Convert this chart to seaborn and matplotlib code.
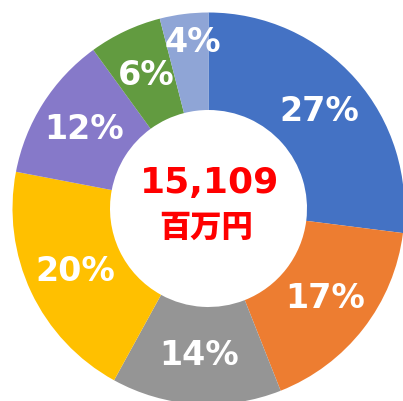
import matplotlib
matplotlib.use("Agg")
import matplotlib.pyplot as plt
import seaborn as sns
import numpy as np

sns.set_theme(style="white")
plt.rcParams['font.family'] = ['DejaVu Sans', 'Noto Sans CJK JP']

shares = [27, 17, 14, 20, 12, 6, 4]
labels = ["27%", "17%", "14%", "20%", "12%", "6%", "4%"]
colors = ["#4472C4", "#ED7D31", "#959595", "#FFC000", "#8679C9", "#629B40", "#8FA5D6"]
total_text = "15,109"
unit_text = "百万円"

palette = sns.color_palette(colors)

fig = plt.figure(figsize=(4.03, 4.01), dpi=100)
ax = fig.add_axes([0, 0, 1, 1])
cx, cy = 208.5, 401 - 208.5
R = 196
wedges, texts = ax.pie(shares, colors=palette, startangle=90, counterclock=False,
                       center=(cx, cy), radius=R,
                       wedgeprops=dict(width=R - 98.5, linewidth=0))
ax.set_xlim(0, 403)
ax.set_ylim(0, 401)
ax.set_aspect('equal')
ax.axis('off')

for i, (w, lab) in enumerate(zip(wedges, labels)):
    if i == len(labels) - 1:
        ang = np.deg2rad(w.theta1 + 0.38 * (w.theta2 - w.theta1))
        r = 0.85 * R
    else:
        ang = np.deg2rad((w.theta1 + w.theta2) / 2)
        r = 0.75 * R
    ax.text(cx + r * np.cos(ang), cy + r * np.sin(ang), lab, color="white",
            fontsize=24, fontweight="bold", ha="center", va="center")

ax.text(cx + 1, cy + 25, total_text, color="#FF0000", fontsize=26, fontweight="bold",
        ha="center", va="center")
ax.text(cx - 2, cy - 19, unit_text, color="#FF0000", fontsize=22.5, fontweight="black",
        ha="center", va="center", family=["Noto Sans CJK JP", "DejaVu Sans"])

fig.savefig("out.png", dpi=100)
